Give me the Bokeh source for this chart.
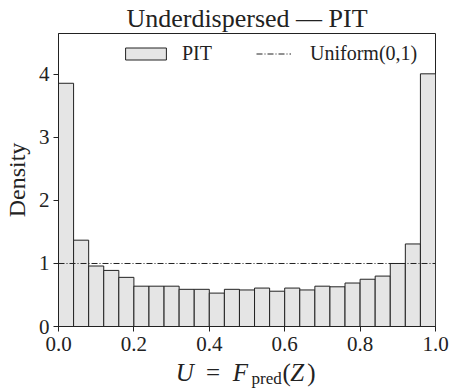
from bokeh.plotting import figure
from bokeh.models import (Range1d, FixedTicker, PrintfTickFormatter, Legend,
                          LegendItem, ColumnDataSource)
from bokeh.core.properties import value
from bokeh.embed import file_html
from bokeh.resources import INLINE

# ---- data ----
bin_left = [0.00, 0.04, 0.08, 0.12, 0.16, 0.20, 0.24, 0.28, 0.32, 0.36,
            0.40, 0.44, 0.48, 0.52, 0.56, 0.60, 0.64, 0.68, 0.72, 0.76,
            0.80, 0.84, 0.88, 0.92, 0.96]
bin_right = [0.04, 0.08, 0.12, 0.16, 0.20, 0.24, 0.28, 0.32, 0.36, 0.40,
             0.44, 0.48, 0.52, 0.56, 0.60, 0.64, 0.68, 0.72, 0.76, 0.80,
             0.84, 0.88, 0.92, 0.96, 1.00]
density = [3.86, 1.37, 0.96, 0.89, 0.78, 0.64, 0.64, 0.64, 0.59, 0.59,
           0.53, 0.59, 0.58, 0.61, 0.56, 0.61, 0.58, 0.64, 0.63, 0.69,
           0.75, 0.80, 1.00, 1.31, 4.01]
uniform_x = [0.0, 1.0]
uniform_y = [1.0, 1.0]
x_ticks = [0.0, 0.2, 0.4, 0.6, 0.8, 1.0]
y_ticks = [0, 1, 2, 3, 4]

FONT = "Liberation Serif"
INK = "#222222"

src = ColumnDataSource(dict(left=bin_left, right=bin_right, top=density))

p = figure(width=451, height=389, output_backend="svg", toolbar_location=None,
           x_range=Range1d(0, 1), y_range=Range1d(0, 4.65),
           min_border_left=56, min_border_right=16, min_border_top=33,
           min_border_bottom=63)
p.background_fill_color = "white"
p.border_fill_color = "white"
p.grid.visible = False
p.outline_line_color = INK
p.outline_line_width = 1

bars = p.quad(left="left", right="right", bottom=0, top="top", source=src,
              fill_color="#e5e5e5", line_color=INK, line_width=1)
uline = p.line(uniform_x, uniform_y, line_color=INK, line_width=1,
               line_dash="6 2 1 2")

# title
p.title.text = "Underdispersed \u2014 PIT"
p.title.align = "center"
p.title.text_font = FONT
p.title.text_font_size = "26px"
p.title.text_font_style = "normal"
p.title.text_color = INK
p.title.standoff = 1

# axes
for ax in (p.xaxis[0], p.yaxis[0]):
    ax.major_tick_out = 5
    ax.major_tick_in = 0
    ax.minor_tick_out = 0
    ax.minor_tick_in = 0
    ax.axis_line_color = INK
    ax.major_tick_line_color = INK
    ax.major_label_text_font = FONT
    ax.major_label_text_font_size = "21px"
    ax.major_label_text_color = INK
    ax.axis_label_text_font = FONT
    ax.axis_label_text_font_size = "24px"
    ax.axis_label_text_font_style = "normal"
    ax.axis_label_text_color = INK

p.xaxis.ticker = FixedTicker(ticks=x_ticks)
p.xaxis.formatter = PrintfTickFormatter(format="%.1f")
p.xaxis.major_label_standoff = 5
p.yaxis.ticker = FixedTicker(ticks=y_ticks)
p.yaxis.formatter = PrintfTickFormatter(format="%d")
p.yaxis.major_label_standoff = 4
p.yaxis.axis_label = "Density"
p.yaxis.axis_label_standoff = 6

# x-axis label  U = F_pred(Z)  built from text pieces (overlay level)
pieces = [("U", 0.311, -0.73, "italic", "25px"),
          ("=", 0.391, -0.73, "normal", "25px"),
          ("F", 0.462, -0.73, "italic", "25px"),
          ("pred", 0.512, -0.82, "normal", "17px"),
          ("(", 0.594, -0.73, "normal", "25px"),
          ("Z", 0.615, -0.73, "italic", "25px"),
          (")", 0.660, -0.73, "normal", "25px")]
for txt, dx, dy, style, size in pieces:
    p.text(x=[dx], y=[dy], text=[txt], text_font=value(FONT),
           text_font_size=value(size), text_font_style=style,
           text_color=INK, text_baseline="alphabetic", text_align="left",
           level="overlay")

# legends
leg_common = dict(orientation="horizontal", padding=0, margin=0, spacing=0,
                  border_line_color=None, background_fill_alpha=0,
                  label_text_font=FONT, label_text_font_size="20px",
                  label_text_color=INK, glyph_height=15, label_height=15)
leg1 = Legend(items=[LegendItem(label="PIT", renderers=[bars])],
              location=(62, 261), glyph_width=51, label_standoff=11,
              **leg_common)
leg2 = Legend(items=[LegendItem(label="Uniform(0,1)", renderers=[uline])],
              location=(198, 261), glyph_width=35, label_standoff=19,
              **leg_common)
p.add_layout(leg1)
p.add_layout(leg2)

open("out.html", "w").write(file_html(p, INLINE))
